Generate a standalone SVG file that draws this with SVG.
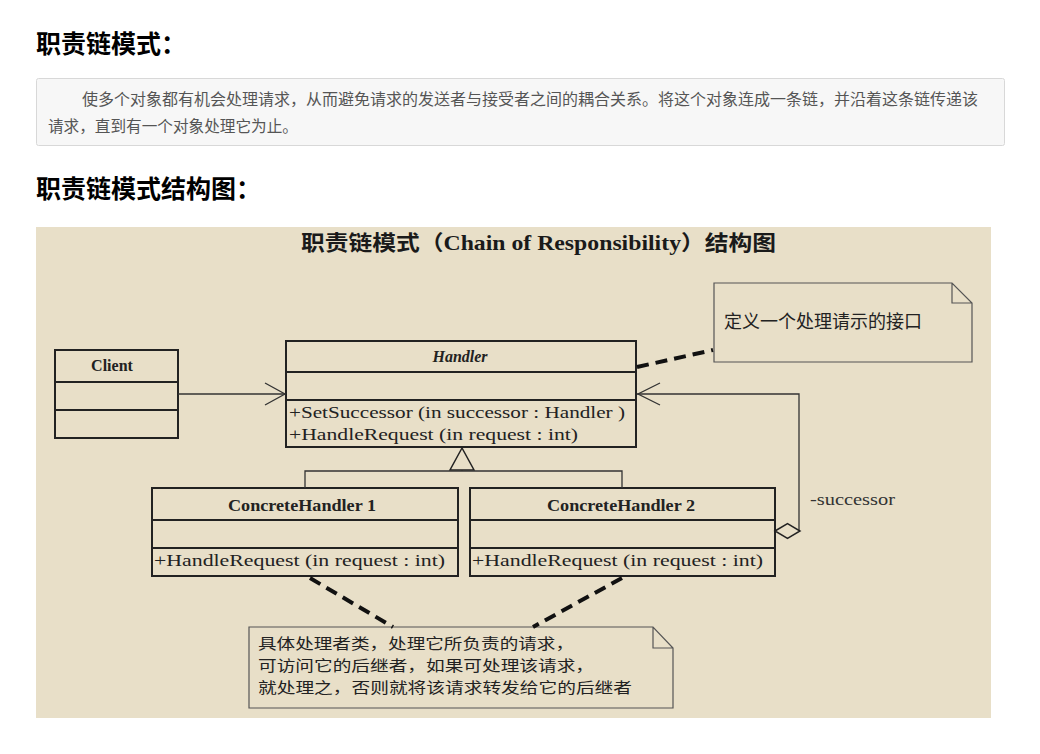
<svg xmlns="http://www.w3.org/2000/svg" width="1040" height="754" viewBox="0 0 1040 754">
<style>
.h{font-family:"Noto Sans CJK SC","Liberation Sans",sans-serif;font-weight:bold;font-size:25px;fill:#000}
.body{font-family:"Noto Sans CJK SC","Liberation Sans",sans-serif;font-size:15.5px;fill:#555}
.box{fill:none;stroke:#222;stroke-width:2}
.thin{fill:none;stroke:#333;stroke-width:1.3}
.cn{font-family:"Noto Sans CJK SC",sans-serif;font-size:18px;fill:#222}
.cn2{font-family:"Noto Sans CJK SC",sans-serif;font-size:15px;fill:#222}
.cls{font-family:"Liberation Serif",serif;font-weight:bold;font-size:16px;fill:#222;text-anchor:middle}
.m{font-family:"Liberation Serif",serif;font-size:16px;fill:#222}
.dash{fill:none;stroke:#111;stroke-width:4;stroke-dasharray:12 7}
.note{fill:none;stroke:#555;stroke-width:1.2}
</style>
<rect width="1040" height="754" fill="#fff"/>
<text class="h" x="36" y="53">职责链模式：</text>
<rect x="36.5" y="78.5" width="968" height="67" rx="2" fill="#f7f7f7" stroke="#d8d8d8"/>
<text class="body" x="82" y="105" textLength="896" lengthAdjust="spacingAndGlyphs">使多个对象都有机会处理请求，从而避免请求的发送者与接受者之间的耦合关系。将这个对象连成一条链，并沿着这条链传递该</text>
<text class="body" x="48" y="132" textLength="250" lengthAdjust="spacingAndGlyphs">请求，直到有一个对象处理它为止。</text>
<text class="h" x="36" y="198">职责链模式结构图：</text>

<rect x="36" y="227" width="955" height="491" fill="#e8dfc8"/>
<text x="301" y="250" textLength="475" lengthAdjust="spacingAndGlyphs" style="font-family:'Liberation Serif','Noto Sans CJK SC',serif;font-weight:bold;font-size:21px;fill:#1a1a1a">职责链模式（Chain of Responsibility）结构图</text>

<g id="note-handler">
<path class="note" d="M714,283 H952 L972,303 V362 H714 Z M952,283 V303 H972"/>
<text class="cn" x="724" y="328">定义一个处理请示的接口</text>
</g>

<g id="client">
<rect class="box" x="55" y="350" width="123" height="88"/>
<line class="box" x1="55" y1="382" x2="178" y2="382"/>
<line class="box" x1="55" y1="410" x2="178" y2="410"/>
<text class="cls" x="112" y="371" font-size="17">Client</text>
</g>

<g id="handler">
<rect class="box" x="286" y="341" width="350" height="106"/>
<line class="box" x1="286" y1="372" x2="636" y2="372"/>
<line class="box" x1="286" y1="400" x2="636" y2="400"/>
<text class="cls" x="460" y="362" font-style="italic">Handler</text>
<text class="m" x="289" y="418" textLength="336" lengthAdjust="spacingAndGlyphs">+SetSuccessor (in successor  : Handler )</text>
<text class="m" x="289" y="440" textLength="289" lengthAdjust="spacingAndGlyphs">+HandleRequest (in request  : int)</text>
</g>

<g id="concrete1">
<rect class="box" x="152" y="488" width="306" height="88"/>
<line class="box" x1="152" y1="520" x2="458" y2="520"/>
<line class="box" x1="152" y1="548" x2="458" y2="548"/>
<text class="cls" x="302" y="511" textLength="148" lengthAdjust="spacingAndGlyphs">ConcreteHandler 1</text>
<text class="m" x="154" y="566" textLength="291" lengthAdjust="spacingAndGlyphs">+HandleRequest (in request  : int)</text>
</g>

<g id="concrete2">
<rect class="box" x="470" y="488" width="305" height="88"/>
<line class="box" x1="470" y1="520" x2="775" y2="520"/>
<line class="box" x1="470" y1="548" x2="775" y2="548"/>
<text class="cls" x="621" y="511" textLength="148" lengthAdjust="spacingAndGlyphs">ConcreteHandler 2</text>
<text class="m" x="472" y="566" textLength="291" lengthAdjust="spacingAndGlyphs">+HandleRequest (in request  : int)</text>
</g>

<g id="note-concrete">
<path class="note" d="M249,627 H653 L673,648 V708 H249 Z M653,627 V648 H673"/>
<text class="cn2" x="258" y="649" textLength="316" lengthAdjust="spacingAndGlyphs">具体处理者类，处理它所负责的请求，</text>
<text class="cn2" x="258" y="671" textLength="336" lengthAdjust="spacingAndGlyphs">可访问它的后继者，如果可处理该请求，</text>
<text class="cn2" x="258" y="693" textLength="374" lengthAdjust="spacingAndGlyphs">就处理之，否则就将该请求转发给它的后继者</text>
</g>

<g id="connectors">
<line class="thin" x1="178" y1="394" x2="285" y2="394"/>
<polyline class="thin" points="265,383 285,394 265,405"/>
<polyline class="thin" points="775,531 799,531 799,394 637,394"/>
<polyline class="thin" points="660,383 638,394 660,405"/>
<polygon points="775,531 787.5,523.5 800,531 787.5,538.5" fill="#e8dfc8" stroke="#222" stroke-width="1.5"/>
<text x="810" y="505" textLength="85" lengthAdjust="spacingAndGlyphs" style="font-family:'Liberation Serif',serif;font-size:17px;fill:#333">-successor</text>
<polygon points="462,448 450,470 474,470" fill="#e8dfc8" stroke="#222" stroke-width="1.5"/>
<polyline class="thin" points="305,488 305,471 622,471 622,488"/>
<line class="thin" x1="462" y1="470" x2="462" y2="471"/>
<line class="dash" x1="637" y1="367" x2="713" y2="350"/>
<line class="dash" x1="310" y1="578" x2="393" y2="627"/>
<line class="dash" x1="622" y1="578" x2="533" y2="627"/>
</g>
</svg>
